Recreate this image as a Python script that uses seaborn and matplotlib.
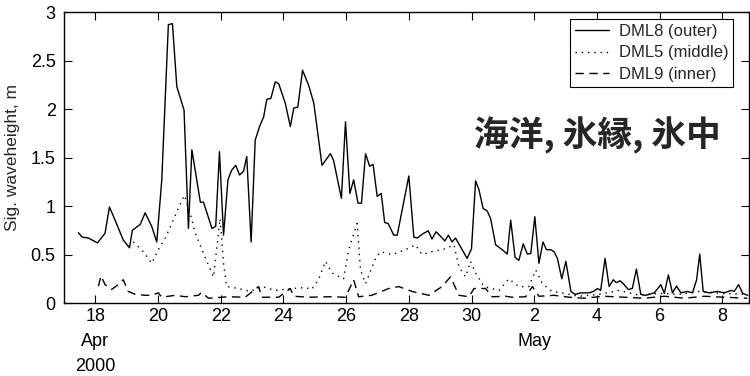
import numpy as np
import pandas as pd
import matplotlib
matplotlib.use('Agg')
import matplotlib.pyplot as plt
import seaborn as sns

# time is given as day of April 2000 (May 2 = 32)
dml8_day = [17.46, 17.58, 17.78, 18.07, 18.31, 18.45, 18.63, 18.89, 19.09, 19.18, 19.43, 19.59,
            19.80, 19.96, 20.12, 20.33, 20.46, 20.60, 20.83, 20.97, 21.08, 21.35, 21.45, 21.72,
            21.84, 21.96, 22.09, 22.23, 22.35, 22.48, 22.60, 22.73, 22.83, 22.97, 23.10, 23.24,
            23.37, 23.47, 23.60, 23.74, 23.85, 24.06, 24.22, 24.33, 24.46, 24.61, 24.81, 24.97,
            25.23, 25.50, 25.60, 25.85, 25.98, 26.12, 26.24, 26.38, 26.49, 26.62, 26.75, 26.86,
            26.99, 27.12, 27.23, 27.34, 27.52, 27.63, 28.00, 28.16, 28.27, 28.43, 28.48, 28.62,
            28.74, 28.87, 29.01, 29.15, 29.26, 29.38, 29.49, 29.65, 29.86, 30.00, 30.13, 30.24,
            30.37, 30.50, 30.61, 30.77, 30.98, 31.14, 31.25, 31.39, 31.51, 31.65, 31.78, 31.89,
            32.02, 32.15, 32.28, 32.39, 32.53, 32.63, 32.74, 32.88, 33.01, 33.17, 33.30, 33.49,
            33.75, 33.89, 34.02, 34.12, 34.26, 34.39, 34.52, 34.62, 34.74, 34.87, 35.00, 35.13,
            35.26, 35.40, 35.56, 35.83, 36.04, 36.15, 36.28, 36.41, 36.54, 36.68, 36.89, 37.05,
            37.18, 37.28, 37.39, 37.58, 37.85, 38.06, 38.28, 38.38, 38.52, 38.65, 38.81]
dml8_hs = [0.725, 0.68, 0.67, 0.62, 0.72, 0.99, 0.855, 0.65, 0.57, 0.75, 0.81, 0.93,
           0.79, 0.63, 1.27, 2.87, 2.88, 2.23, 1.99, 0.77, 1.58, 1.04, 1.04, 0.77,
           0.79, 1.56, 0.70, 1.27, 1.37, 1.42, 1.32, 1.36, 1.51, 0.63, 1.68, 1.82,
           1.92, 2.10, 2.11, 2.28, 2.26, 2.06, 1.82, 2.01, 2.02, 2.40, 2.24, 2.06,
           1.42, 1.54, 1.47, 1.08, 1.87, 1.13, 1.27, 1.03, 1.03, 1.54, 1.41, 1.43,
           1.10, 1.13, 0.83, 0.82, 0.70, 0.70, 1.31, 0.68, 0.67, 0.71, 0.72, 0.745,
           0.66, 0.735, 0.69, 0.64, 0.70, 0.63, 0.67, 0.58, 0.46, 0.56, 1.26, 1.165,
           0.975, 0.95, 0.87, 0.60, 0.55, 0.505, 0.855, 0.47, 0.44, 0.61, 0.505, 0.51,
           0.89, 0.41, 0.63, 0.55, 0.55, 0.53, 0.46, 0.25, 0.43, 0.12, 0.09, 0.105,
           0.105, 0.12, 0.15, 0.13, 0.46, 0.17, 0.24, 0.21, 0.23, 0.19, 0.14, 0.15,
           0.35, 0.09, 0.08, 0.105, 0.19, 0.10, 0.29, 0.105, 0.175, 0.105, 0.12, 0.105,
           0.24, 0.505, 0.12, 0.105, 0.12, 0.105, 0.13, 0.12, 0.19, 0.10, 0.08]

dml5_day = [19.21, 19.53, 19.80, 20.01, 20.23, 20.44, 20.65, 20.84, 21.03, 21.19, 21.40, 21.61,
            21.77, 21.88, 21.98, 22.09, 22.19, 22.57, 22.94, 23.31, 23.74, 24.27, 24.70, 24.90,
            25.12, 25.34, 25.55, 25.92, 26.08, 26.35, 26.46, 26.62, 26.94, 27.10, 27.47, 27.89,
            28.21, 28.42, 28.74, 29.17, 29.44, 29.60, 29.81, 29.97, 30.13, 30.40, 30.88, 31.19,
            31.51, 31.83, 32.05, 32.26, 32.57, 32.95, 33.43, 34.07, 34.71, 35.35, 35.99, 36.63,
            37.27, 37.91, 38.80]
dml5_hs = [0.63, 0.53, 0.41, 0.55, 0.67, 0.82, 0.98, 1.11, 0.92, 0.72, 0.55, 0.39,
           0.27, 0.58, 0.87, 0.41, 0.17, 0.15, 0.12, 0.17, 0.13, 0.15, 0.16, 0.14,
           0.24, 0.43, 0.31, 0.25, 0.55, 0.82, 0.34, 0.20, 0.46, 0.53, 0.50, 0.55,
           0.60, 0.50, 0.53, 0.56, 0.60, 0.37, 0.27, 0.43, 0.31, 0.17, 0.13, 0.25,
           0.17, 0.17, 0.34, 0.20, 0.12, 0.10, 0.07, 0.09, 0.13, 0.08, 0.10, 0.09,
           0.12, 0.10, 0.09]

dml9_day = [18.10, 18.18, 18.31, 18.52, 18.73, 18.89, 19.05, 19.27, 19.59, 19.80, 20.01, 20.12,
            20.55, 20.87, 21.29, 21.39, 21.61, 22.25, 22.78, 23.21, 23.31, 23.85, 24.22, 24.33,
            24.81, 25.45, 25.98, 26.24, 26.40, 26.82, 27.36, 27.68, 28.10, 28.64, 29.06, 29.33,
            29.60, 29.92, 30.08, 30.45, 30.66, 31.09, 31.30, 31.73, 31.94, 32.15, 32.63, 33.12,
            33.59, 34.23, 34.87, 35.51, 36.15, 36.79, 37.43, 38.07, 38.80]
dml9_hs = [0.175, 0.28, 0.19, 0.14, 0.19, 0.24, 0.12, 0.09, 0.08, 0.08, 0.105, 0.06,
           0.08, 0.065, 0.08, 0.11, 0.05, 0.065, 0.06, 0.17, 0.06, 0.06, 0.15, 0.07,
           0.06, 0.065, 0.06, 0.24, 0.065, 0.08, 0.15, 0.17, 0.12, 0.08, 0.17, 0.27,
           0.08, 0.065, 0.15, 0.15, 0.065, 0.07, 0.06, 0.065, 0.17, 0.07, 0.08, 0.06,
           0.05, 0.07, 0.06, 0.05, 0.07, 0.05, 0.07, 0.06, 0.05]

labels = ['DML8 (outer)', 'DML5 (middle)', 'DML9 (inner)']
ytick_vals = [0, 0.5, 1, 1.5, 2, 2.5, 3]
ytick_labels = ['0', '0.5', '1', '1.5', '2', '2.5', '3']

start = pd.Timestamp('2000-04-01')


def to_time(days):
    return start + pd.to_timedelta(np.array(days) - 1, unit='D')


df = pd.concat([
    pd.DataFrame({'time': to_time(dml8_day), 'hs': dml8_hs, 'buoy': labels[0]}),
    pd.DataFrame({'time': to_time(dml5_day), 'hs': dml5_hs, 'buoy': labels[1]}),
    pd.DataFrame({'time': to_time(dml9_day), 'hs': dml9_hs, 'buoy': labels[2]}),
])

sns.set_style('ticks')
plt.rcParams['font.family'] = ['Liberation Sans', 'DejaVu Sans']

fig = plt.figure(figsize=(7.5, 3.76), dpi=100)
ax = fig.add_axes([0.0853, 0.194, 0.9133, 0.774])

sns.lineplot(data=df, x='time', y='hs', style='buoy', style_order=labels,
             dashes={labels[0]: '', labels[1]: (1, 3.5), labels[2]: (6, 4)},
             color='black', linewidth=1.0, estimator=None, ax=ax)

ax.set_xlim(to_time([17.0])[0], to_time([38.85])[0])
ax.set_ylim(0, 3)
ax.set_yticks(ytick_vals)
ax.set_yticklabels(ytick_labels)

xt = pd.date_range('2000-04-18', '2000-05-08', freq='2D')
xl = []
for t in xt:
    if t.month == 4 and t.day == 18:
        xl.append('18\nApr\n2000')
    elif t.month == 5 and t.day == 2:
        xl.append('2\nMay')
    else:
        xl.append(str(t.day))
ax.set_xticks(xt)
ax.set_xticklabels(xl, va='top', linespacing=1.6)

ax.set_xlabel('')
ax.set_ylabel('Sig. waveheight, m', fontsize=12.5, labelpad=8)
ax.tick_params(direction='in', top=True, right=True, length=6, width=0.8,
               labelsize=13, colors='black')
ax.tick_params(axis='y', pad=6)
for s in ax.spines.values():
    s.set_linewidth(1.0)
    s.set_color('black')

leg = ax.legend(loc='upper left', bbox_to_anchor=(0.739, 0.976), borderaxespad=0,
                fontsize=12, frameon=True, fancybox=False, edgecolor='black',
                framealpha=1, handlelength=2.0, labelspacing=0.38, borderpad=0.3,
                handletextpad=0.6)
leg.get_frame().set_linewidth(0.8)

fig.text(474 / 750, 1 - 135 / 376, '海洋, 氷縁, 氷中', ha='left', va='center',
         fontsize=25, fontweight='bold', family=['Noto Sans CJK JP', 'DejaVu Sans'])

fig.savefig('out.png', dpi=100)
